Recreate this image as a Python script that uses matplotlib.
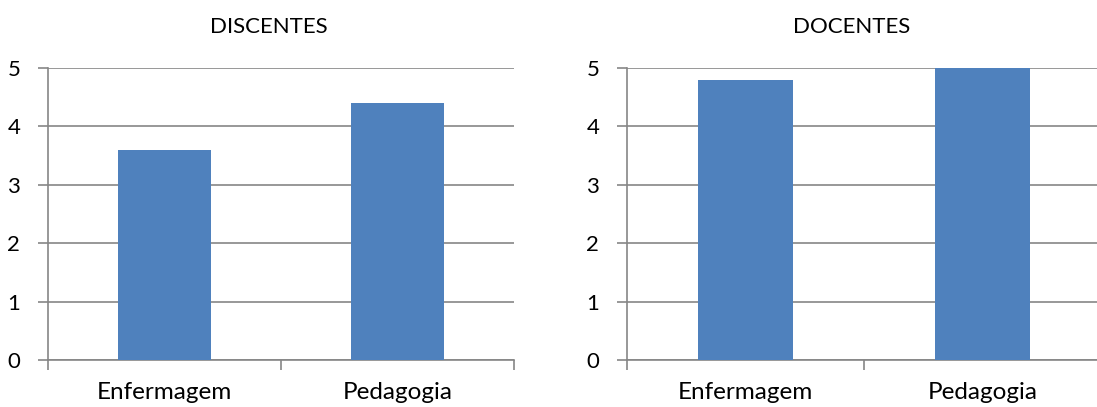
import numpy as np
import matplotlib.pyplot as plt
from matplotlib.ticker import FixedLocator

categorias = ["Enfermagem", "Pedagogia"]
discentes = [3.6, 4.4]
docentes = [4.8, 5.0]
titulos = ["DISCENTES", "DOCENTES"]

plt.rcParams['font.family'] = ['Lato', 'DejaVu Sans']

fig = plt.figure(figsize=(10.97, 4.07), dpi=100)
ax1 = fig.add_axes([48 / 1097, 47 / 407, 466 / 1097, 292 / 407])
ax2 = fig.add_axes([627 / 1097, 47 / 407, 474 / 1097, 292 / 407])

cor = '#4F81BD'
cinza = '#868686'

for ax, vals, tit in zip([ax1, ax2], [discentes, docentes], titulos):
    x = np.arange(len(categorias))
    ax.bar(x, vals, width=0.4, color=cor, zorder=3)
    ax.set_xlim(-0.5, len(categorias) - 0.5)
    ax.set_ylim(0, 5)
    ax.set_yticks(range(6))
    ax.yaxis.grid(True, color=cinza, linewidth=1.2, zorder=0)
    ax.set_xticks(x)
    ax.set_xticklabels(categorias, fontsize=17.5)
    ax.tick_params(axis='x', which='major', length=0, pad=16)
    ax.xaxis.set_minor_locator(FixedLocator([-0.5, 0.5, 1.5]))
    ax.tick_params(axis='x', which='minor', length=7, color=cinza, width=1.2)
    ax.tick_params(axis='y', length=7, color=cinza, width=1.2, labelsize=16, pad=13)
    for s in ['top', 'right']:
        ax.spines[s].set_visible(False)
    for s in ['left', 'bottom']:
        ax.spines[s].set_color(cinza)
        ax.spines[s].set_linewidth(1.2)
    ax.set_title(tit, fontsize=16, pad=25, x=0.473)

fig.savefig('out.png', dpi=100)
